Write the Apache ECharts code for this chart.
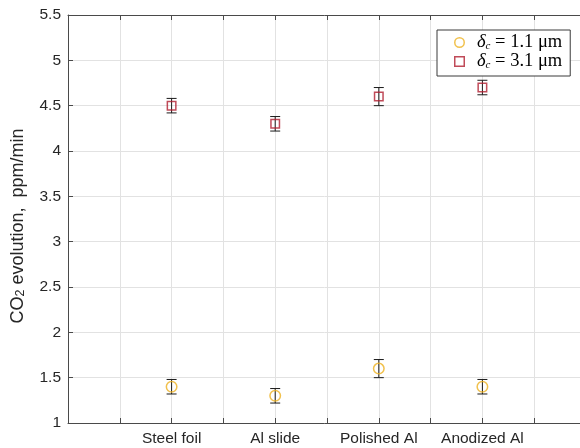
<!DOCTYPE html>
<html><head><meta charset="utf-8">
<script src="https://cdn.jsdelivr.net/npm/echarts@6/dist/echarts.min.js"></script>
<style>html,body{margin:0;padding:0;background:#fff;overflow:hidden}#c{width:580px;height:448px}</style>
</head><body><div id="c"></div>
<script>
const categories = ['Steel foil', 'Al slide', 'Polished Al', 'Anodized Al'];
const thinName = 'thin';   // δc = 1.1 μm
const thickName = 'thick'; // δc = 3.1 μm
const thinValues = [1.4, 1.3, 1.6, 1.4];
const thinErrors = [0.08, 0.08, 0.1, 0.08];
const thickValues = [4.5, 4.3, 4.6, 4.7];
const thickErrors = [0.08, 0.08, 0.1, 0.08];
const legendLabels = { thin: '1.1', thick: '3.1' };

const AX = '#262626', AXLINE = '#4a4a4a', GRID = '#e2e2e2', ORANGE = '#EDB120', RED = '#B01E2F';
const sans = 'Liberation Sans, Arial, sans-serif';
const serif = 'Liberation Serif, Times New Roman, serif';

function xLabel(v) {
  const r = Math.round(v);
  if (Math.abs(v - r) < 1e-6 && r >= 1 && r <= categories.length) return categories[r - 1];
  return '';
}
function errData(vals, errs) { return categories.map((c, i) => [i + 1, vals[i], errs[i]]); }
function ptData(vals) { return categories.map((c, i) => [i + 1, vals[i]]); }

function errRender(params, api) {
  const x = api.value(0), y = api.value(1), e = api.value(2);
  const t = api.coord([x, y + e]), b = api.coord([x, y - e]);
  const hw = 5, st = { stroke: '#1a1a1a', lineWidth: 1 };
  return { type: 'group', children: [
    { type: 'line', shape: { x1: t[0], y1: t[1], x2: b[0], y2: b[1] }, style: st },
    { type: 'line', shape: { x1: t[0] - hw, y1: t[1], x2: t[0] + hw, y2: t[1] }, style: st },
    { type: 'line', shape: { x1: b[0] - hw, y1: b[1], x2: b[0] + hw, y2: b[1] }, style: st }
  ]};
}

const axisCommon = {
  axisLine: { show: true, onZero: false, lineStyle: { color: AXLINE, width: 1 } },
  axisTick: { show: true, inside: true, length: 5, lineStyle: { color: AXLINE, width: 1 } }
};

const chart = echarts.init(document.getElementById('c'), null, { renderer: 'canvas' });
chart.setOption({
  animation: false,
  backgroundColor: '#fff',
  grid: { left: 68, right: -6, top: 15, bottom: 25, containLabel: false, outerBoundsMode: 'none' },
  xAxis: [
    Object.assign({
      type: 'value', min: 0, max: 5, interval: 0.5, position: 'bottom',
      axisLabel: { formatter: xLabel, color: AX, fontSize: 15.5, fontFamily: sans, margin: 8 },
      splitLine: { show: true, lineStyle: { color: GRID, width: 1 } }
    }, axisCommon),
    Object.assign({
      type: 'value', min: 0, max: 5, interval: 0.5, position: 'top',
      axisLabel: { show: false }, splitLine: { show: false }
    }, axisCommon)
  ],
  yAxis: [
    Object.assign({
      type: 'value', min: 1, max: 5.5, interval: 0.5, position: 'left',
      name: '{n|CO}{s|2}{n| evolution,  ppm/min}',
      nameLocation: 'middle', nameGap: 41, nameRotate: 90,
      nameTextStyle: { color: AX, fontFamily: sans, fontSize: 18, padding: [0, 14, 0, 0],
        rich: { n: { fontSize: 18, fontFamily: sans, color: AX, lineHeight: 18 },
                s: { fontSize: 12.5, fontFamily: sans, color: AX, lineHeight: 4, verticalAlign: 'bottom' } } },
      axisLabel: { color: AX, fontSize: 15.5, fontFamily: sans, margin: 7 },
      splitLine: { show: true, lineStyle: { color: GRID, width: 1 } }
    }, axisCommon),
    Object.assign({
      type: 'value', min: 1, max: 5.5, interval: 0.5, position: 'right',
      axisLabel: { show: false }, splitLine: { show: false }
    }, axisCommon)
  ],
  legend: {
    orient: 'vertical', left: 437, top: 30,
    data: [
      { name: thinName, icon: 'circle', itemStyle: { color: 'rgba(0,0,0,0)', borderColor: ORANGE, borderWidth: 1.5 } },
      { name: thickName, icon: 'path://M0,0L1,0L1,1L0,1Z', itemStyle: { color: 'rgba(0,0,0,0)', borderColor: RED, borderWidth: 1.5 } }
    ],
    symbolKeepAspect: true,
    itemWidth: 25, itemHeight: 9.5, itemGap: 0,
    padding: [3, 8, 5, 17],
    backgroundColor: '#fff', borderColor: '#3a3a3a', borderWidth: 1, borderRadius: 0,
    formatter: name => '{d|δ}{c|c}{t| = ' + legendLabels[name] + ' μm}',
    textStyle: { fontFamily: serif, fontSize: 18.5, color: '#000', lineHeight: 18,
      rich: {
        d: { fontFamily: serif, fontStyle: 'italic', fontSize: 18.5, color: '#000', lineHeight: 18 },
        c: { fontFamily: serif, fontStyle: 'italic', fontSize: 11, color: '#000', lineHeight: 3, verticalAlign: 'bottom' },
        t: { fontFamily: serif, fontSize: 18.5, color: '#000', lineHeight: 18 }
      } }
  },
  series: [
    { type: 'custom', name: 'errThin', renderItem: errRender, data: errData(thinValues, thinErrors), encode: { x: 0, y: 1 }, z: 3, silent: true },
    { type: 'custom', name: 'errThick', renderItem: errRender, data: errData(thickValues, thickErrors), encode: { x: 0, y: 1 }, z: 3, silent: true },
    { type: 'scatter', name: thinName, data: ptData(thinValues), symbol: 'circle', symbolSize: 10.5, z: 4,
      itemStyle: { color: 'rgba(0,0,0,0)', borderColor: ORANGE, borderWidth: 1.5 } },
    { type: 'scatter', name: thickName, data: ptData(thickValues), symbol: 'rect', symbolSize: 8.5, z: 4,
      itemStyle: { color: 'rgba(0,0,0,0)', borderColor: RED, borderWidth: 1.5 } }
  ]
});
</script>
</body></html>
